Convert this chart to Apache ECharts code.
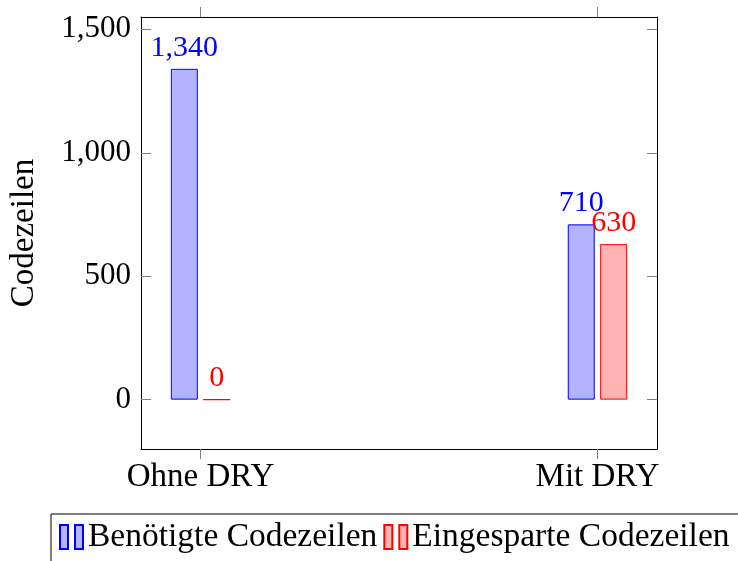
<!DOCTYPE html>
<html>
<head>
<meta charset="utf-8">
<script src="https://cdn.jsdelivr.net/npm/echarts@6/dist/echarts.min.js"></script>
<style>
  html, body { margin: 0; padding: 0; background: #fff; }
  #root { width: 738px; height: 561px; }
</style>
</head>
<body>
<div id="root"></div>
<script>
// Daten
const categories = ['Ohne DRY', 'Mit DRY'];
const benoetigt = [1340, 710];
const eingespart = [0, 630];
const yTicks = [0, 500, 1000, 1500];
const seriesNames = ['Benötigte Codezeilen', 'Eingesparte Codezeilen'];

const FONT = '"Liberation Serif", "DejaVu Serif", serif';
const catIdx = categories.map((c, i) => i);

let myChart = echarts.init(document.querySelector('#root'));

// x als Werteachse, damit die Kategorien wie bei pgfplots eingerückt sind
const xBase = {
  type: 'value',
  min: -0.15,
  max: 1.15,
  splitLine: { show: false },
  axisLine: { show: true, onZero: false, lineStyle: { color: '#000', width: 1 } },
  axisTick: { show: true, customValues: catIdx, inside: false, length: 10, lineStyle: { color: '#808080' } },
};
const yBase = {
  type: 'value',
  min: -200,
  max: 1550,
  splitLine: { show: false },
  axisLine: { show: true, onZero: false, lineStyle: { color: '#000', width: 1 } },
  axisTick: { show: true, customValues: yTicks, inside: true, length: 10, lineStyle: { color: '#808080' } },
};

const barIcon = 'path://M0,0h8v24h-8z M15,0h8v24h-8z';

let option = {
  backgroundColor: '#fff',
  animation: false,
  textStyle: { fontFamily: FONT },
  grid: { left: 138, right: 81, top: 17, bottom: 112 },
  xAxis: [
    Object.assign({}, xBase, {
      position: 'bottom',
      axisLabel: {
        customValues: catIdx,
        formatter: v => categories[Math.round(v)],
        color: '#000', fontFamily: FONT, fontSize: 33, margin: 12
      }
    }),
    Object.assign({}, xBase, { position: 'top', axisLabel: { show: false } })
  ],
  yAxis: [
    Object.assign({}, yBase, {
      position: 'left',
      name: 'Codezeilen',
      nameLocation: 'middle',
      nameGap: 100,
      nameTextStyle: { color: '#000', fontFamily: FONT, fontSize: 33 },
      axisLabel: {
        customValues: yTicks,
        formatter: v => v.toLocaleString('en-US'),
        color: '#000', fontFamily: FONT, fontSize: 31, margin: 10
      }
    }),
    Object.assign({}, yBase, { position: 'right', axisLabel: { show: false } })
  ],
  legend: {
    left: 51,
    top: 514,
    width: 760,
    orient: 'horizontal',
    backgroundColor: '#fff',
    borderColor: '#000',
    borderWidth: 1,
    padding: [6, 40, 30, 8],
    itemGap: 6,
    itemWidth: 23,
    itemHeight: 24,
    textStyle: { color: '#000', fontFamily: FONT, fontSize: 33.5 },
    data: [
      { name: seriesNames[0], icon: barIcon },
      { name: seriesNames[1], icon: barIcon }
    ]
  },
  series: [
    {
      name: seriesNames[0],
      type: 'bar',
      xAxisIndex: 0,
      yAxisIndex: 0,
      barWidth: 27,
      barGap: '20%',
      data: benoetigt.map((v, i) => [i, v]),
      itemStyle: { color: '#b3b3ff', borderColor: '#0000ff', borderWidth: 1 },
      label: {
        show: true, position: 'top', distance: 6,
        color: '#0000ff', fontFamily: FONT, fontSize: 30,
        formatter: p => p.value[1].toLocaleString('en-US')
      }
    },
    {
      name: seriesNames[1],
      type: 'bar',
      xAxisIndex: 0,
      yAxisIndex: 0,
      barWidth: 27,
      barGap: '20%',
      data: eingespart.map((v, i) => [i, v]),
      itemStyle: { color: '#ffb3b3', borderColor: '#ff0000', borderWidth: 1 },
      label: {
        show: true, position: 'top', distance: 6,
        color: '#ff0000', fontFamily: FONT, fontSize: 30,
        formatter: p => p.value[1].toLocaleString('en-US')
      }
    }
  ]
};

myChart.setOption(option);
</script>
</body>
</html>
